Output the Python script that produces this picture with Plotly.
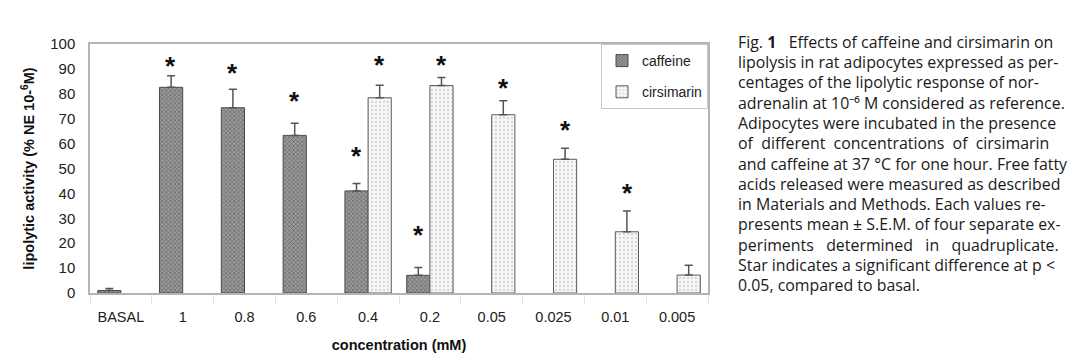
import plotly.graph_objects as go

categories = ["BASAL", "1", "0.8", "0.6", "0.4", "0.2", "0.05", "0.025", "0.01", "0.005"]
caffeine = [1.0, 82.6, 74.4, 63.3, 41.0, 7.1, None, None, None, None]
caffeine_err = [0.8, 4.6, 7.4, 4.9, 3.0, 3.1, None, None, None, None]
cirsimarin = [None, None, None, None, 78.4, 83.3, 71.6, 53.7, 24.6, 7.2]
cirsimarin_err = [None, None, None, None, 5.0, 3.2, 5.6, 4.4, 8.3, 3.9]
# significance stars: level of each star
stars_caffeine = [None, 92.5, 89.6, 78.2, 56.2, 24.6, None, None, None, None]
stars_cirsimarin = [None, None, None, None, 92.9, 92.9, 83.5, 66.8, 41.4, None]

y_title = "lipolytic activity (% NE 10-<sup>6</sup>M)"
x_title = "concentration (mM)"
caption_lines = [
    "Fig. <b>1</b>   Effects of caffeine and cirsimarin on",
    "lipolysis in rat adipocytes expressed as per-",
    "centages of the lipolytic response of nor-",
    "adrenalin at 10⁻⁶ M considered as reference.",
    "Adipocytes were incubated in the presence",
    "of  different  concentrations  of  cirsimarin",
    "and caffeine at 37 °C for one hour. Free fatty",
    "acids released were measured as described",
    "in Materials and Methods. Each values re-",
    "presents mean ± S.E.M. of four separate ex-",
    "periments   determined   in   quadruplicate.",
    "Star indicates a significant difference at p <",
    "0.05, compared to basal.",
]

# page has an 8px body margin; figure coords = page coords - 8
OFF = 8
W, H = 1078 - OFF, 363 - OFF
L, T = 90 - OFF, 44 - OFF
R = W - (708 - OFF)
B = H - (293 - OFF)

fig = go.Figure()
fig.add_trace(go.Bar(
    x=categories, y=caffeine, name="caffeine", legendgroup="a",
    marker=dict(color="#8a8a8a", line=dict(color="#4a4a4a", width=1),
                pattern=dict(shape="x", size=3, solidity=0.45, fgcolor="#3c3c3c", bgcolor="#9a9a9a")),
    error_y=dict(type="data", symmetric=False, array=caffeine_err,
                 arrayminus=[0] * len(caffeine_err), color="#555555", thickness=1.5, width=4),
))
fig.add_trace(go.Bar(
    x=categories, y=cirsimarin, name="cirsimarin", legendgroup="b",
    marker=dict(color="#f4f4f4", line=dict(color="#5a5a5a", width=1),
                pattern=dict(shape=".", size=4, solidity=0.25, fgcolor="#b0b0b0", bgcolor="#f7f7f7")),
    error_y=dict(type="data", symmetric=False, array=cirsimarin_err,
                 arrayminus=[0] * len(cirsimarin_err), color="#555555", thickness=1.5, width=4),
))

annotations = []
for i, c in enumerate(categories):
    for s, off in ((stars_caffeine[i], -0.19), (stars_cirsimarin[i], 0.19)):
        if s is not None:
            annotations.append(dict(
                x=i + off, y=s, xref="x", yref="y", text="<b>*</b>", showarrow=False,
                font=dict(family="Arial, Liberation Sans", size=26, color="#111"),
                yanchor="middle", xanchor="center", yshift=-3,
            ))

plot_w = W - L - R
plot_h = H - T - B
for k, line in enumerate(caption_lines):
    ypix = 41.7 + k * 20.3 - OFF
    annotations.append(dict(
        x=(736 - OFF - L) / plot_w, y=(H - B - ypix) / plot_h,
        xref="paper", yref="paper", text=line, showarrow=False,
        xanchor="left", yanchor="middle", align="left",
        font=dict(family="Open Sans", size=15.9, color="#1a1a1a"),
    ))

fig.update_layout(
    width=W, height=H,
    margin=dict(l=L, r=R, t=T, b=B, pad=0, autoexpand=False),
    paper_bgcolor="white", plot_bgcolor="white",
    barmode="group", bargap=0.25, bargroupgap=0,
    font=dict(family="Arial, Liberation Sans", color="#222"),
    showlegend=True,
    legend=dict(x=1.0, y=1.0, xanchor="right", yanchor="top",
                bgcolor="white", bordercolor="#c8c8c8", borderwidth=1,
                font=dict(size=14, color="#222"), tracegroupgap=10,
                itemwidth=30),
    annotations=annotations,
)
fig.update_xaxes(
    type="category", range=[-0.5, len(categories) - 0.5],
    showline=True, linecolor="#b4b4b4", linewidth=1.5, mirror=True,
    ticks="outside", ticklen=9, tickcolor="#e4e4e4", tickson="boundaries", showgrid=False,
    ticklabelstandoff=10,
    tickfont=dict(size=14.5, color="#222"),
    title=dict(text="<b>" + x_title + "</b>", font=dict(size=14.5, color="#111"), standoff=16),
)
fig.update_yaxes(
    range=[0, 100], dtick=10, showline=True, linecolor="#b4b4b4", linewidth=1.5, mirror=True,
    showgrid=False, ticks="", zeroline=False, ticklabelstandoff=10,
    tickfont=dict(size=15, color="#222"),
    title=dict(text="<b>" + y_title + "</b>", font=dict(size=14.5, color="#111"), standoff=12),
)

fig.write_html("out.html")
